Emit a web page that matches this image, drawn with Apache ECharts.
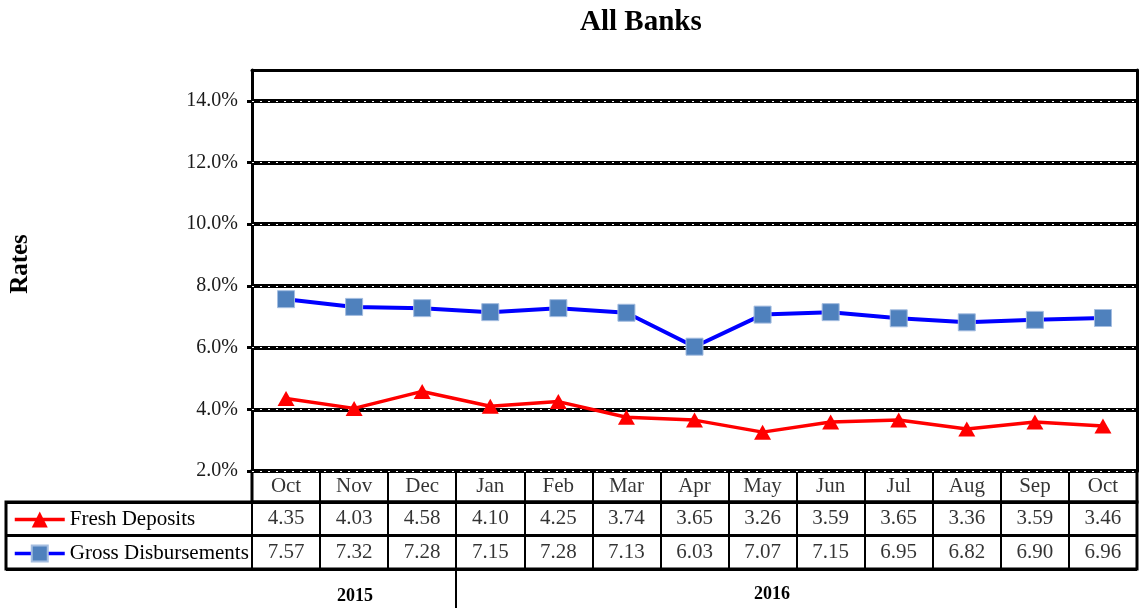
<!DOCTYPE html>
<html>
<head>
<meta charset="utf-8">
<title>All Banks</title>
<script src="https://cdn.jsdelivr.net/npm/echarts@6/dist/echarts.min.js"></script>
<style>
  html, body { margin: 0; padding: 0; background: #fff; }
  #chart { width: 1145px; height: 608px; }
</style>
</head>
<body>
<div id="chart"></div>
<script>
  // data
  var months = ['Oct', 'Nov', 'Dec', 'Jan', 'Feb', 'Mar', 'Apr', 'May', 'Jun', 'Jul', 'Aug', 'Sep', 'Oct'];
  var freshDeposits = [4.35, 4.03, 4.58, 4.10, 4.25, 3.74, 3.65, 3.26, 3.59, 3.65, 3.36, 3.59, 3.46];
  var grossDisbursements = [7.57, 7.32, 7.28, 7.15, 7.28, 7.13, 6.03, 7.07, 7.15, 6.95, 6.82, 6.90, 6.96];
  var seriesNames = ['Fresh Deposits', 'Gross Disbursements'];
  var yTicks = [2, 4, 6, 8, 10, 12, 14];
  var years = ['2015', '2016'];

  var serif = 'Liberation Serif';
  var chart = echarts.init(document.getElementById('chart'));

  // label-only scatter for one row of the table under the chart
  function cellRow(name, xi, yi, row, texts, size) {
    return {
      name: name,
      type: 'scatter',
      xAxisIndex: xi,
      yAxisIndex: yi,
      silent: true,
      symbol: 'rect',
      symbolSize: 1,
      itemStyle: { color: 'rgba(0,0,0,0)' },
      label: {
        show: true,
        position: 'inside',
        color: '#000',
        fontFamily: serif,
        fontSize: size,
        formatter: function (p) { return texts[p.dataIndex]; }
      },
      data: texts.map(function (t, i) { return [i, row]; })
    };
  }

  var option = {
    animation: false,
    title: {
      text: 'All Banks',
      left: 575,
      top: 3,
      textStyle: { fontFamily: serif, fontWeight: 'bold', fontSize: 29, color: '#000' }
    },
    legend: {
      data: seriesNames,
      orient: 'vertical',
      left: 13,
      top: 509,
      padding: 0,
      itemWidth: 50,
      itemHeight: 20,
      itemGap: 13,
      lineStyle: { width: 3.5 },
      textStyle: { fontFamily: serif, fontSize: 21, color: '#000' }
    },
    grid: [
      { left: 252, right: 8, top: 70, height: 401 },
      { left: 252, right: 8, top: 471, height: 31, show: true, borderColor: '#000', borderWidth: 3 },
      { left: 6, right: 8, top: 502, height: 67, show: true, borderColor: '#000', borderWidth: 3 },
      { left: 252, right: 8, top: 502, height: 67 }
    ],
    xAxis: [
      { type: 'category', gridIndex: 0, data: months, axisLine: { lineStyle: { color: '#000', width: 3 } },
        axisTick: { show: false }, axisLabel: { show: false } },
      { type: 'category', gridIndex: 0, position: 'top', data: months, z: 5,
        axisLine: { lineStyle: { color: '#000', width: 3 } }, axisTick: { show: false }, axisLabel: { show: false } },
      { type: 'category', gridIndex: 1, data: months, axisLine: { show: false }, axisTick: { show: false },
        axisLabel: { show: false }, splitLine: { show: true, lineStyle: { color: '#000', width: 2 } } },
      { type: 'value', gridIndex: 2, show: false },
      { type: 'category', gridIndex: 3, data: months, axisLine: { show: false }, axisTick: { show: false },
        axisLabel: { show: false }, splitLine: { show: true, lineStyle: { color: '#000', width: 2 } } }
    ],
    yAxis: [
      {
        type: 'value', gridIndex: 0, min: 2, max: 15, interval: 2,
        axisLine: { show: true, lineStyle: { color: '#000', width: 3 } },
        axisTick: { show: true, length: 5, customValues: yTicks, lineStyle: { color: '#000', width: 3 } },
        axisLabel: {
          margin: 14, fontFamily: serif, fontSize: 20, color: '#1a1a1a', customValues: yTicks,
          formatter: function (v) { return v.toFixed(1) + '%'; }
        },
        splitLine: { show: true, lineStyle: { color: '#000', width: 4 } }
      },
      // right border, also lays the fine white dashes over the black gridlines
      { type: 'value', gridIndex: 0, position: 'right', min: 2, max: 15, interval: 2, z: 1,
        axisLine: { show: true, lineStyle: { color: '#000', width: 3 } }, axisTick: { show: false },
        axisLabel: { show: false },
        splitLine: { show: true, lineStyle: { color: '#fff', width: 1, type: [2, 6] } } },
      { type: 'value', gridIndex: 1, min: 0, max: 1, show: false },
      { type: 'category', gridIndex: 2, data: seriesNames, axisLine: { show: false }, axisTick: { show: false },
        axisLabel: { show: false }, splitLine: { show: true, lineStyle: { color: '#000', width: 3 } } },
      { type: 'category', gridIndex: 3, data: seriesNames, inverse: true, axisLine: { show: false },
        axisTick: { show: false }, axisLabel: { show: false }, splitLine: { show: false } }
    ],
    graphic: [
      { type: 'text', x: 21, y: 264, rotation: Math.PI / 2,
        style: { text: 'Rates', fontFamily: serif, fontWeight: 'bold', fontSize: 25, fill: '#000',
          textAlign: 'center', textVerticalAlign: 'middle' } },
      { type: 'line', shape: { x1: 456, y1: 569, x2: 456, y2: 608 }, style: { stroke: '#000', lineWidth: 2 } },
      { type: 'text', x: 355, y: 596, style: { text: years[0], fontFamily: serif, fontWeight: 'bold', fontSize: 18,
        fill: '#000', textAlign: 'center', textVerticalAlign: 'middle' } },
      { type: 'text', x: 772, y: 594, style: { text: years[1], fontFamily: serif, fontWeight: 'bold', fontSize: 18,
        fill: '#000', textAlign: 'center', textVerticalAlign: 'middle' } }
    ],
    series: [
      {
        name: seriesNames[0], type: 'line', xAxisIndex: 0, yAxisIndex: 0, z: 4,
        data: freshDeposits,
        symbol: 'triangle', symbolSize: [17, 15],
        lineStyle: { color: '#ff0000', width: 3.5 },
        itemStyle: { color: '#ff0000' }
      },
      {
        name: seriesNames[1], type: 'line', xAxisIndex: 0, yAxisIndex: 0, z: 4,
        data: grossDisbursements,
        symbol: 'rect', symbolSize: 17,
        lineStyle: { color: '#0000ff', width: 4 },
        itemStyle: { color: '#4f81bd', borderColor: '#a4bde0', borderWidth: 1 }
      },
      cellRow('monthCells', 2, 2, 0.5, months, 21),
      cellRow('freshCells', 4, 4, 0, freshDeposits.map(function (v) { return v.toFixed(2); }), 21),
      cellRow('grossCells', 4, 4, 1, grossDisbursements.map(function (v) { return v.toFixed(2); }), 21)
    ]
  };

  chart.setOption(option);
</script>
</body>
</html>
